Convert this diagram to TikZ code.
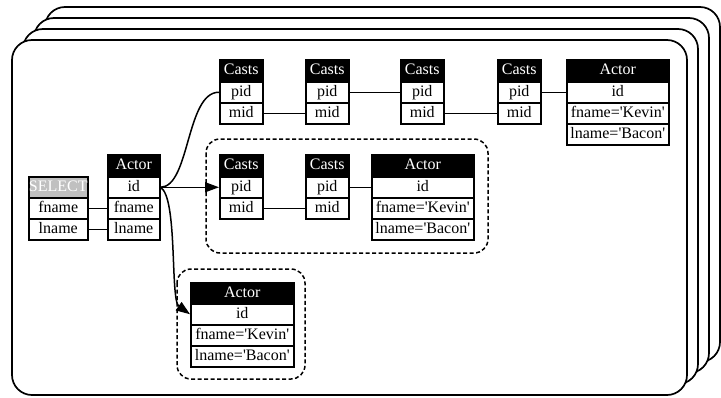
\documentclass[tikz,border=0pt]{standalone}
\usepackage{fontspec}
\setmainfont{Liberation Serif}[Ligatures=TeXOff]
\usetikzlibrary{arrows.meta}
\definecolor{selgray}{RGB}{192,192,192}
\begin{document}
\begin{tikzpicture}[x=1pt,y=-1pt,
 cellbox/.style={draw=black, line width=1.5pt, fill=white, inner sep=0pt, anchor=north west,
   minimum height=21pt, font=\fontsize{16}{16}\selectfont, text height=11pt, text depth=3pt, text=black},
 hdrbox/.style={cellbox, fill=black, text=white, minimum height=22pt},
 selhdr/.style={cellbox, fill=selgray, text=white},
 framebox/.style={draw=black, line width=1.7pt, fill=white, rounded corners=20pt},
 groupbox/.style={draw=black, line width=1.5pt, dash pattern=on 4pt off 2.5pt, rounded corners=14pt},
 link/.style={draw=black, line width=1.5pt},
 arr/.style={link, -{Triangle[length=14pt,width=10pt]}}
]
\useasboundingbox (0,0) rectangle (721,397);
% stacked frames
\draw[framebox] (45,7) rectangle (720,362);
\draw[framebox] (34,18) rectangle (709,373);
\draw[framebox] (23,29) rectangle (698,384);
\draw[framebox] (12,40) rectangle (687,395);
% groups
\draw[groupbox] (206,139) rectangle (488,253);
\draw[groupbox] (177,269) rectangle (305,379);

% SELECT
\node[selhdr, minimum width=59pt] (sh) at (28,176) {SELECT};
\node[cellbox, minimum width=59pt] (sf) at (28,197) {fname};
\node[cellbox, minimum width=59pt] (sl) at (28,218) {lname};
% Actor left
\node[hdrbox, minimum width=52pt] (ah) at (107,154) {Actor};
\node[cellbox, minimum width=52pt] (aid) at (107,176) {id};
\node[cellbox, minimum width=52pt] (af) at (107,197) {fname};
\node[cellbox, minimum width=52pt] (al) at (107,218) {lname};

% top row Casts
\node[hdrbox, minimum width=43pt] (t1h) at (219,59) {Casts};
\node[cellbox, minimum width=43pt] (t1p) at (219,81) {pid};
\node[cellbox, minimum width=43pt] (t1m) at (219,102) {mid};
\node[hdrbox, minimum width=43pt] (t2h) at (305,59) {Casts};
\node[cellbox, minimum width=43pt] (t2p) at (305,81) {pid};
\node[cellbox, minimum width=43pt] (t2m) at (305,102) {mid};
\node[hdrbox, minimum width=43pt] (t3h) at (400,59) {Casts};
\node[cellbox, minimum width=43pt] (t3p) at (400,81) {pid};
\node[cellbox, minimum width=43pt] (t3m) at (400,102) {mid};
\node[hdrbox, minimum width=43pt] (t4h) at (497,59) {Casts};
\node[cellbox, minimum width=43pt] (t4p) at (497,81) {pid};
\node[cellbox, minimum width=43pt] (t4m) at (497,102) {mid};
\node[hdrbox, minimum width=102pt] (tah) at (566,59) {Actor};
\node[cellbox, minimum width=102pt] (taid) at (566,81) {id};
\node[cellbox, minimum width=102pt] (taf) at (566,102) {fname='Kevin'};
\node[cellbox, minimum width=102pt] (tal) at (566,123) {lname='Bacon'};

% middle group
\node[hdrbox, minimum width=43pt] (m1h) at (219,154) {Casts};
\node[cellbox, minimum width=43pt] (m1p) at (219,176) {pid};
\node[cellbox, minimum width=43pt] (m1m) at (219,197) {mid};
\node[hdrbox, minimum width=43pt] (m2h) at (305,154) {Casts};
\node[cellbox, minimum width=43pt] (m2p) at (305,176) {pid};
\node[cellbox, minimum width=43pt] (m2m) at (305,197) {mid};
\node[hdrbox, minimum width=102pt] (mah) at (371,154) {Actor};
\node[cellbox, minimum width=102pt] (maid) at (371,176) {id};
\node[cellbox, minimum width=102pt] (maf) at (371,197) {fname='Kevin'};
\node[cellbox, minimum width=102pt] (mal) at (371,218) {lname='Bacon'};

% bottom group
\node[hdrbox, minimum width=103pt] (bah) at (190,282) {Actor};
\node[cellbox, minimum width=103pt] (baid) at (190,303) {id};
\node[cellbox, minimum width=103pt] (baf) at (190,324) {fname='Kevin'};
\node[cellbox, minimum width=103pt] (bal) at (190,345) {lname='Bacon'};

% connectors
\draw[link] (sf.east) -- (af.west);
\draw[link] (sl.east) -- (al.west);
\draw[link] (t1m.east) -- (t2m.west);
\draw[link] (t2p.east) -- (t3p.west);
\draw[link] (t3m.east) -- (t4m.west);
\draw[link] (t4p.east) -- (taid.west);
\draw[link] (m1m.east) -- (m2m.west);
\draw[link] (m2p.east) -- (maid.west);
\draw[link] (aid.east) .. controls (190,187) and (186,92) .. (t1p.west);
\draw[arr] (aid.east) -- (m1p.west);
\draw[arr] (aid.east) .. controls (178,198) and (170,300) .. (baid.west);
\end{tikzpicture}
\end{document}
